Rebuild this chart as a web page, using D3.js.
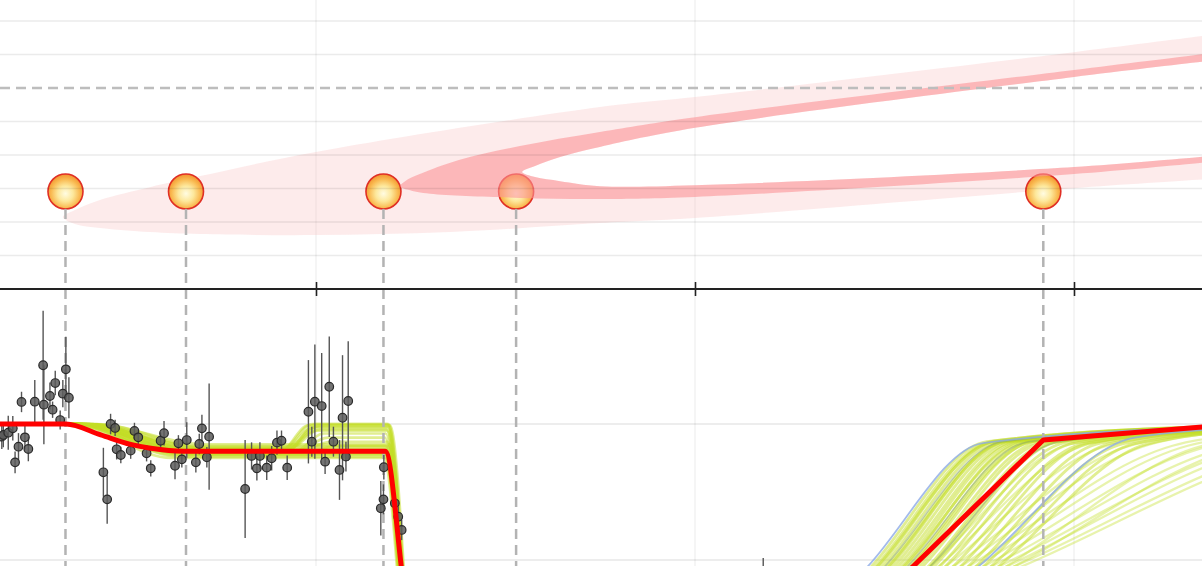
<!DOCTYPE html>
<html><head><meta charset="utf-8">
<script src="https://cdn.jsdelivr.net/npm/d3@7"></script>
<style>html,body{margin:0;padding:0;background:#fff;overflow:hidden}svg{display:block}</style>
</head><body>
<svg id="c" width="1202" height="566"></svg>
<script>
// ---------- data ----------
const xTicks = [100, 200, 300];
const topGrid = [1, 2, 3, 4, 5, 6, 7, 8];
const topDashed = 6;
const botGrid = [0, 1];

const markerX = [33.9, 65.7, 117.8, 152.8, 291.9];
const markerY = 2.91;

// confidence bands of the fold curve (top panel)
const lightUpper = [[335.9,7.58],[300,7.07],[200,5.73],[174.9,5.43],[100,4.09],[69.4,3.37],[56.2,3.04],[43,2.66],[36.4,2.36],[33.2,2.15]];
const lightLower = [[36.4,1.94],[43,1.82],[56.2,1.70],[69.4,1.64],[100,1.61],[135.4,1.70],[174.9,1.97],[200,2.12],[300,3.01],[335.9,3.28]];
const darkUpper  = [[335.9,7.04],[300,6.54],[200,5.13],[174.9,4.69],[153.8,4.27],[137.7,3.85],[127.4,3.43],[123.5,3.22],[122.2,3.07]];
const darkLower  = [[124.3,2.96],[130.1,2.84],[153.8,2.72],[174.9,2.69],[200,2.75],[300,3.43],[335.9,3.79]];
const holeUpper  = [[335.9,6.81],[300,6.33],[200,4.81],[174.9,4.24],[164.4,3.94],[157.8,3.67],[154.4,3.49]];
const holeLower  = [[157.8,3.34],[164.4,3.22],[174.9,3.07],[200,3.10],[300,3.64],[335.9,3.97]];

// observations (bottom panel)
const obsX = [17.1,17.5,18.8,20.0,20.6,21.5,22.3,23.2,24.1,25.8,28.0,28.2,29.8,30.5,31.2,32.5,33.2,34.0,34.8,43.9,44.9,45.8,47.0,47.4,48.5,51.1,52.1,53.1,55.3,56.4,59.0,59.9,62.8,63.7,64.6,65.9,68.3,69.2,69.9,71.2,71.8,81.3,83.0,84.4,85.2,87.0,88.3,89.7,90.9,92.4,98.0,98.9,99.7,101.5,102.4,103.5,104.6,106.2,107.0,107.9,108.5,117.1,117.8,117.9,120.8,121.7,122.6,218.0];
const obsY = [0.907,0.919,0.936,0.968,0.718,0.833,1.162,0.902,0.816,1.164,1.432,1.142,1.206,1.105,1.301,1.029,1.223,1.402,1.193,0.645,0.446,1.0,0.971,0.814,0.772,0.804,0.949,0.902,0.785,0.674,0.877,0.932,0.693,0.858,0.740,0.882,0.718,0.853,0.968,0.755,0.907,0.522,0.765,0.674,0.765,0.679,0.748,0.863,0.877,0.679,1.090,0.870,1.164,1.132,0.723,1.274,0.870,0.662,1.046,0.760,1.169,0.380,0.446,0.682,0.417,0.318,0.221,-0.22];
const obsErr = [0.09,0.09,0.125,0.09,0.08,0.10,0.075,0.09,0.09,0.16,0.40,0.29,0.10,0.06,0.09,0.07,0.10,0.24,0.15,0.18,0.18,0.075,0.06,0.075,0.06,0.06,0.06,0.06,0.06,0.06,0.06,0.09,0.10,0.06,0.06,0.13,0.075,0.075,0.10,0.075,0.39,0.36,0.10,0.09,0.10,0.09,0.09,0.09,0.075,0.09,0.38,0.11,0.42,0.39,0.09,0.37,0.11,0.22,0.46,0.11,0.44,0.20,0.11,0.09,0.075,0.075,0.075,0.235];

// best fit (red)
const fitLeft  = [[15,1.0],[34,1.0],[43.2,0.92],[51.1,0.85],[56.4,0.822],[65,0.80],[118.3,0.80],[122.5,-0.05],[123.5,-0.3]];
const fitRight = [[250,-0.25],[257.8,-0.04],[291.9,0.882],[334.5,0.98]];

// ensemble members, left part: [descentStart, descentEnd, level, bumpStart, bumpLevel, dropX]
const ensLeft = [
 [35,63,0.79,94,0.79,118.0],[36,65,0.81,95,0.81,118.6],[37,66,0.78,93,0.78,118.2],
 [38,67,0.82,94,0.82,118.8],[36,64,0.76,95,0.76,117.8],[39,68,0.84,92,0.84,119.0],
 [35,62,0.75,96,0.75,118.4],[40,70,0.83,93,0.83,119.2],[37,65,0.80,94,0.80,118.9],
 [38,66,0.77,95,0.77,118.5],[41,71,0.85,94,0.85,119.4],[36,63,0.79,93,0.79,118.1],
 [37,66,0.81,91,1.00,118.8],[38,67,0.80,92,0.98,119.0],[39,68,0.82,93,0.96,118.6],
 [36,65,0.79,94,0.93,118.4],[38,66,0.80,95,0.90,118.2],[40,69,0.81,96,0.87,118.9],
 [37,64,0.78,90,0.99,119.2],[39,67,0.83,92,0.95,118.7],[42,72,0.82,93,0.99,119.5],
 [35,64,0.77,97,0.84,118.3],[38,68,0.80,91,0.97,118.9],[40,70,0.79,92,1.0,119.1],
 [37,66,0.80,94,0.80,118.6],[39,69,0.78,95,0.78,118.4]
];
// ensemble members, right part: [riseX, kneeX, kneeLevel, endLevel]
const ensRight = [
 [246.5,277,0.87,0.99],[247.5,278,0.865,0.985],[248.5,279,0.875,0.99],[249.5,280,0.87,0.985],
 [250.5,281.5,0.87,0.98],[251.5,282,0.875,0.985],[252.5,283,0.87,0.98],[253.5,284.5,0.875,0.985],
 [254.5,285,0.87,0.98],[255.5,286.5,0.875,0.975],[256.5,288,0.87,0.98],[258,289.5,0.875,0.975],
 [259,291,0.87,0.98],[260,292,0.865,0.97],[261.5,294,0.87,0.975],[263,296,0.87,0.97],
 [264.5,298,0.865,0.97],[266,300,0.86,0.965],[268,303,0.86,0.96],[248,279,0.87,0.99],
 [251,282,0.87,0.985],[255,287,0.87,0.98],[257,289,0.87,0.98],[262,295,0.865,0.97],
 [270,304,0.86,0.965],[272,307,0.86,0.96],[274,310,0.86,0.96],[276,313,0.855,0.955],
 [278,316,0.855,0.95],[280,319,0.85,0.95]
];
const ensSparse = [
 [262,300,0.86,0.97],[264,305,0.86,0.96],[266,310,0.85,0.96],[268,316,0.85,0.95],
 [270,320,0.85,0.95],[272,326,0.84,0.93],[274,330,0.84,0.92],[276,336,0.84,0.9],
 [278,342,0.84,0.9],[280,348,0.84,0.9],[282,352,0.84,0.9],[284,358,0.84,0.9],
 [286,362,0.84,0.9],[282,334,0.84,0.9],[284,345,0.84,0.9]
];
const ensBlue = [[245.5,276,0.86,0.985],[274.7,316,0.9,0.97]];
const ensGray = [[250,281,0.87,0.985],[256,288,0.87,0.98],[262,296,0.87,0.975]];

// ---------- scales ----------
const svg = d3.select("#c");
const W = 1202, H = 566;
const x = d3.scaleLinear().domain([100, 300]).range([316, 1074]);
const yTop = d3.scaleLinear().domain([0, 8]).range([289, 21]);
const yBot = d3.scaleLinear().domain([0, 1]).range([560, 424]);

const gridCol = "rgba(0,0,0,0.08)";

// ---------- vertical grid lines ----------
svg.append("g").selectAll("line").data(xTicks).join("line")
  .attr("x1", d => x(d)).attr("x2", d => x(d)).attr("y1", 0).attr("y2", H)
  .attr("stroke", gridCol).attr("stroke-width", 1);

// ---------- bottom panel ----------
const gb = svg.append("g");
gb.selectAll("line.hg").data(botGrid).join("line").attr("class","hg")
  .attr("x1", 0).attr("x2", W).attr("y1", d => yBot(d)).attr("y2", d => yBot(d))
  .attr("stroke", "rgba(0,0,0,0.07)").attr("stroke-width", 2);

const lineB = d3.line().x(d => x(d[0])).y(d => yBot(d[1])).curve(d3.curveMonotoneX);

function leftKnots(m) {
  const [xs, xe, L, xb, B, xd] = m;
  const k = [[15, 1], [xs, 1], [xe, L]];
  if (B > L) k.push([xb, L], [xb + 8, B]);
  k.push([xd, B], [xd + 4.2, -0.3]);
  return k;
}
function rightKnots(m) {
  const [x0, xk, yk, ye] = m;
  const s = (yk + 0.05) / (xk - x0);
  const xe = Math.max(345, xk + 12);
  return [[x0 - 12, -0.05 - 12 * s], [x0, -0.05], [xk, yk], [xe, ye]];
}

const ens = gb.append("g").attr("fill", "none").attr("stroke-linecap", "round");
ens.selectAll("path.el").data(ensLeft).join("path").attr("class","el")
  .attr("d", d => lineB(leftKnots(d)))
  .attr("stroke", "rgb(196,222,38)").attr("stroke-opacity", 0.5).attr("stroke-width", 2.6);
ens.selectAll("path.es").data(ensSparse).join("path").attr("class","es")
  .attr("d", d => lineB(rightKnots(d)))
  .attr("stroke", "rgb(200,226,60)").attr("stroke-opacity", 0.42).attr("stroke-width", 2.3);
ens.selectAll("path.er").data(ensRight).join("path").attr("class","er")
  .attr("d", d => lineB(rightKnots(d)))
  .attr("stroke", "rgb(196,222,38)").attr("stroke-opacity", 0.5).attr("stroke-width", 2.8);
ens.selectAll("path.eg").data(ensGray).join("path").attr("class","eg")
  .attr("d", d => lineB(rightKnots(d)))
  .attr("stroke", "rgb(120,150,120)").attr("stroke-opacity", 0.4).attr("stroke-width", 1.6);
ens.selectAll("path.eb").data(ensBlue).join("path").attr("class","eb")
  .attr("d", d => lineB(rightKnots(d)))
  .attr("stroke", "rgb(140,170,230)").attr("stroke-opacity", 0.8).attr("stroke-width", 1.8);

// ---------- top panel ----------
const gt = svg.append("g");
const lineT = d3.line().x(d => x(d[0])).y(d => yTop(d[1])).curve(d3.curveCatmullRom.alpha(0.5));
function cShape(upper, lower) { return lineT(upper.concat(lower)) + "Z"; }

// light band (outer C minus hole)
gt.append("path")
  .attr("d", cShape(lightUpper, lightLower) + cShape(holeUpper, holeLower))
  .attr("fill-rule", "evenodd").attr("fill", "rgb(248,190,190)").attr("fill-opacity", 0.3);

// dashed guide lines from markers
const markerR = 17.5;
const dashG = svg.append("g").attr("stroke", "#b3b3b3").attr("stroke-width", 2.5).attr("stroke-dasharray", "10,6");
dashG.selectAll("line").data(markerX).join("line")
  .attr("x1", d => x(d)).attr("x2", d => x(d))
  .attr("y1", yTop(markerY) + markerR).attr("y2", H);

// markers
const defs = svg.append("defs");
const rg = defs.append("radialGradient").attr("id", "mg").attr("cx", "50%").attr("cy", "56%").attr("r", "55%");
[["0%","#fffce2"],["40%","#fde89c"],["75%","#f9b950"],["100%","#f29430"]]
  .forEach(s => rg.append("stop").attr("offset", s[0]).attr("stop-color", s[1]));
gt.append("g").selectAll("circle").data(markerX).join("circle")
  .attr("cx", d => x(d)).attr("cy", yTop(markerY)).attr("r", markerR)
  .attr("fill", "url(#mg)").attr("stroke", "#e02f25").attr("stroke-width", 1.6);

// dark band
svg.append("path")
  .attr("d", cShape(darkUpper, darkLower) + cShape(holeUpper, holeLower))
  .attr("fill-rule", "evenodd").attr("fill", "rgb(251,148,151)").attr("fill-opacity", 0.6);

// top grid lines (drawn over)
svg.append("g").selectAll("line").data(topGrid.filter(d => d !== topDashed)).join("line")
  .attr("x1", 0).attr("x2", W).attr("y1", d => yTop(d)).attr("y2", d => yTop(d))
  .attr("stroke", gridCol).attr("stroke-width", 1.5);
svg.append("line")
  .attr("x1", 0).attr("x2", W).attr("y1", yTop(topDashed)).attr("y2", yTop(topDashed))
  .attr("stroke", "#bdbdbd").attr("stroke-width", 2.5).attr("stroke-dasharray", "10,6");

// axis
const axis = d3.axisBottom(x).tickValues(xTicks).tickSize(14).tickFormat("");
const ga = svg.append("g").attr("transform", `translate(0,${yTop(0)})`).call(axis);
ga.select(".domain").remove();
ga.selectAll(".tick line").attr("y1", -7).attr("y2", 7).attr("stroke", "#222").attr("stroke-width", 1.6);
ga.append("line").attr("x1", 0).attr("x2", W).attr("stroke", "#222").attr("stroke-width", 2);

// observations
const go = svg.append("g");
go.selectAll("line").data(obsX).join("line")
  .attr("x1", d => x(d)).attr("x2", d => x(d))
  .attr("y1", (d, i) => yBot(obsY[i] - obsErr[i])).attr("y2", (d, i) => yBot(obsY[i] + obsErr[i]))
  .attr("stroke", "#555").attr("stroke-width", 1.4);
go.selectAll("circle").data(obsX).join("circle")
  .attr("cx", d => x(d)).attr("cy", (d, i) => yBot(obsY[i])).attr("r", 4.3)
  .attr("fill", "#5a5a5a").attr("fill-opacity", 0.85).attr("stroke", "#2a2a2a").attr("stroke-width", 1.2);

// best fit
const lineLin = d3.line().x(d => x(d[0])).y(d => yBot(d[1]));
svg.append("path").attr("d", lineB(fitLeft)).attr("fill", "none").attr("stroke", "#ff0000").attr("stroke-width", 5);
svg.append("path").attr("d", lineLin(fitRight)).attr("fill", "none").attr("stroke", "#ff0000").attr("stroke-width", 5).attr("stroke-linejoin","round");
</script>
</body></html>
